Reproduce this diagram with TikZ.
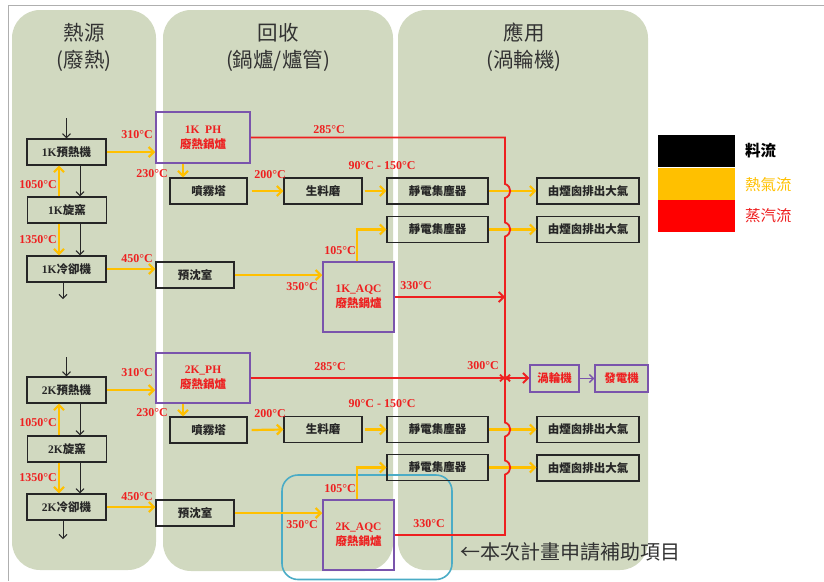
\documentclass[tikz,border=0pt]{standalone}
\usepackage{fontspec}
\setmainfont{Liberation Serif}
\newfontfamily\cjk{Noto Sans CJK TC}
\usetikzlibrary{arrows.meta}
\definecolor{panel}{RGB}{209,217,192}
\definecolor{hotair}{RGB}{255,192,0}
\definecolor{steam}{RGB}{238,32,32}
\definecolor{boiler}{RGB}{122,84,172}
\definecolor{focus}{RGB}{75,172,198}
\definecolor{ink}{RGB}{50,50,50}
\definecolor{frame}{RGB}{175,175,175}
\newcommand\lat[1]{{\rmfamily #1}}
\tikzset{
  panelbox/.style={fill=panel, rounded corners=28pt},
  title/.style={font=\cjk\fontsize{20.5}{27}\selectfont, text=ink, align=center, inner sep=0pt},
  matbox/.style={draw=black!85, line width=1.2pt, inner sep=0pt, minimum width=#1, minimum height=26pt,
    font=\cjk\bfseries\fontsize{11.5}{13}\selectfont, text=black!85},
  boilerbox/.style={draw=boiler, line width=1.5pt, inner sep=0pt, align=center,
    font=\cjk\bfseries\fontsize{11.5}{15}\selectfont, text=steam},
  temp/.style={font=\bfseries\fontsize{12}{13}\selectfont, text=steam, inner sep=0pt},
  feed/.style={draw=black!85, line width=1pt, -{Straight Barb[length=4pt,width=8pt]}},
  gas/.style={draw=hotair, line width=2.2pt, -{Straight Barb[length=5pt,width=10pt]}},
  steamline/.style={draw=steam, line width=1.8pt, -{Straight Barb[length=5pt,width=10pt]}},
  powerline/.style={draw=boiler, line width=1.3pt, -{Straight Barb[length=4pt,width=8pt]}},
  legtext/.style={font=\cjk\fontsize{15.5}{18}\selectfont, anchor=west, inner sep=0pt},
}
\begin{document}
\begin{tikzpicture}[x=1pt,y=-1pt]
\useasboundingbox (0,0) rectangle (824,581);
% frame
\draw[frame, line width=1.5pt] (824,5.5) -- (8.5,5.5) -- (8.5,581);
% panels
\fill[panelbox] (12,10) rectangle (156,570);
\fill[panelbox] (163,10) rectangle (393,571);
\fill[panelbox] (398,10) rectangle (648,570);
% titles
\node[title] (h1) at (84,47.5) {熱源\\(廢熱)};
\node[title] (h2) at (278,47.5) {回收\\(鍋爐/爐管)};
\node[title] (h3) at (524,47.5) {應用\\(渦輪機)};
% focus outline
\draw[focus, line width=1.6pt, rounded corners=16pt] (282,475) rectangle (452,579.5);

% ---------- 1K line ----------
\node[matbox=79pt] (p1) at (66.5,152) {\lat{1K}預熱機};
\node[matbox=79pt] (k1) at (67,210) {\lat{1K}旋窯};
\node[matbox=79pt] (c1) at (66.5,269) {\lat{1K}冷卻機};
\node[boilerbox, minimum width=94pt, minimum height=51pt] (ph1) at (203,137.5) {\lat{1K\ \ PH}\\廢熱鍋爐};
\node[matbox=77pt] (sp1) at (208.5,191) {噴霧塔};
\node[matbox=78pt] (ml1) at (323,191) {生料磨};
\node[matbox=101pt] (ea1) at (437.5,191) {靜電集塵器};
\node[matbox=101pt] (eb1) at (437.5,229.5) {靜電集塵器};
\node[matbox=102pt] (sa1) at (588,191) {由煙囪排出大氣};
\node[matbox=102pt] (sb1) at (588,229.5) {由煙囪排出大氣};
\node[matbox=78pt] (pr1) at (195,275) {預沈室};
\node[boilerbox, minimum width=71pt, minimum height=70pt] (aq1) at (358.5,297) {\lat{1K\_AQC}\\廢熱鍋爐};

% ---------- 2K line ----------
\node[matbox=79pt] (p2) at (66.5,390) {\lat{2K}預熱機};
\node[matbox=79pt] (k2) at (67,449) {\lat{2K}旋窯};
\node[matbox=79pt] (c2) at (66.5,507) {\lat{2K}冷卻機};
\node[boilerbox, minimum width=94pt, minimum height=50pt] (ph2) at (203,378) {\lat{2K\_PH}\\廢熱鍋爐};
\node[matbox=77pt] (sp2) at (208.5,430) {噴霧塔};
\node[matbox=78pt] (ml2) at (323,429.5) {生料磨};
\node[matbox=101pt] (ea2) at (437.5,429.5) {靜電集塵器};
\node[matbox=101pt] (eb2) at (437.5,467.5) {靜電集塵器};
\node[matbox=102pt] (sa2) at (588,429.5) {由煙囪排出大氣};
\node[matbox=102pt] (sb2) at (588,468) {由煙囪排出大氣};
\node[matbox=78pt] (pr2) at (195,513) {預沈室};
\node[boilerbox, minimum width=71pt, minimum height=70pt] (aq2) at (358.5,535) {\lat{2K\_AQC}\\廢熱鍋爐};

% turbine
\node[boilerbox, minimum width=49pt, minimum height=27pt] (tur) at (554.5,378.5) {渦輪機};
\node[boilerbox, minimum width=53pt, minimum height=27pt] (gen) at (621.5,378.5) {發電機};

% helper coordinates
\coordinate (x80) at (80,0);
\coordinate (x59) at (59,0);
\coordinate (x183) at (183,0);
\coordinate (x357) at (357,0);
\coordinate (in1) at (66.5,118);
\coordinate (in2) at (66.5,357);
\coordinate (out1) at (63,299);
\coordinate (out2) at (63,539);
\coordinate (bend1) at (505,137.5);
\coordinate (jn) at (505,378);

% material flow
\draw[feed] (in1) -- (p1.north);
\draw[feed] (p1.south -| x80) -- (k1.north -| x80);
\draw[feed] (k1.south -| x80) -- (c1.north -| x80);
\draw[feed] (c1.south -| out1) -- (out1);
\draw[feed] (in2) -- (p2.north);
\draw[feed] (p2.south -| x80) -- (k2.north -| x80);
\draw[feed] (k2.south -| x80) -- (c2.north -| x80);
\draw[feed] (c2.south -| out2) -- (out2);

% hot gas flow
\foreach \n in {1,2}{
  \draw[gas] (k\n.north -| x59) -- (p\n.south -| x59);
  \draw[gas] (k\n.south -| x59) -- (c\n.north -| x59);
  \draw[gas] (p\n.east) -- (p\n.east -| ph\n.west);
  \draw[gas] (ph\n.south -| x183) -- (sp\n.north -| x183);
  \draw[gas] ([xshift=4pt]sp\n.east) -- (ml\n.west);
  \draw[gas] ([xshift=2pt]ml\n.east) -- (ea\n.west);
  \draw[gas] (ea\n.east) -- (sa\n.west);
  \draw[gas] (eb\n.east) -- (eb\n.east -| sb\n.west);
  \draw[gas] (c\n.east) -- (c\n.east -| pr\n.west);
  \draw[gas] (pr\n.east) -- (pr\n.east -| aq\n.west);
  \draw[gas] (aq\n.north -| x357) |- (eb\n.west);
}

% steam flow
\draw[steamline] (ph1.east) -- (bend1)
  -- (505,184) .. controls (512,186) and (512,196) .. (505,198)
  -- (505,222.5) .. controls (512,224.5) and (512,234.5) .. (505,236.5)
  -- ([yshift=-3pt]jn);
\draw[steamline] (aq1.east) -- (aq1.east -| bend1);
\draw[steamline] (aq2.east) -- (aq2.east -| jn)
  -- (505,474.5) .. controls (512,472.5) and (512,462.5) .. (505,460.5)
  -- (505,436.5) .. controls (512,434.5) and (512,424.5) .. (505,422.5)
  -- ([yshift=3pt]jn);
\draw[steamline] (ph2.east) -- (ph2.east -| tur.west);
\draw[powerline] (tur.east) -- (gen.west);

% temperatures
\node[temp] (t1a) at (137,135) {310°C};
\node[temp] (t1b) at (152,174) {230°C};
\node[temp] (t1c) at (270,175) {200°C};
\node[temp] (t1d) at (382,166) {90°C - 150°C};
\node[temp] (t1e) at (329,130) {285°C};
\node[temp] (t1f) at (38,185) {1050°C};
\node[temp] (t1g) at (38,240) {1350°C};
\node[temp] (t1h) at (137,259) {450°C};
\node[temp] (t1i) at (302,287) {350°C};
\node[temp] (t1j) at (340,251) {105°C};
\node[temp] (t1k) at (416,286) {330°C};
\node[temp] (t2a) at (137,373) {310°C};
\node[temp] (t2b) at (152,413) {230°C};
\node[temp] (t2c) at (270,414) {200°C};
\node[temp] (t2d) at (382,404) {90°C - 150°C};
\node[temp] (t2e) at (330,367) {285°C};
\node[temp] (t2f) at (38,423) {1050°C};
\node[temp] (t2g) at (38,478) {1350°C};
\node[temp] (t2h) at (137,497) {450°C};
\node[temp] (t2i) at (302,525) {350°C};
\node[temp] (t2j) at (340,489) {105°C};
\node[temp] (t2k) at (429,524) {330°C};
\node[temp] (t3) at (483,366) {300°C};

% legend
\fill[black] (658,135) rectangle (735,166.5);
\fill[hotair] (658,168) rectangle (735,200);
\fill[red] (658,200) rectangle (735,232);
\node[legtext, font=\cjk\bfseries\fontsize{15.5}{18}\selectfont, text=black] (l1) at (745,151) {料流};
\node[legtext, text=hotair] (l2) at (745,185) {熱氣流};
\node[legtext, text=steam] (l3) at (745,216) {蒸汽流};

% note
\node[font=\cjk\fontsize{20}{24}\selectfont, text=ink, anchor=west, inner sep=0pt] (note) at (460,552) {←本次計畫申請補助項目};
\end{tikzpicture}
\end{document}
